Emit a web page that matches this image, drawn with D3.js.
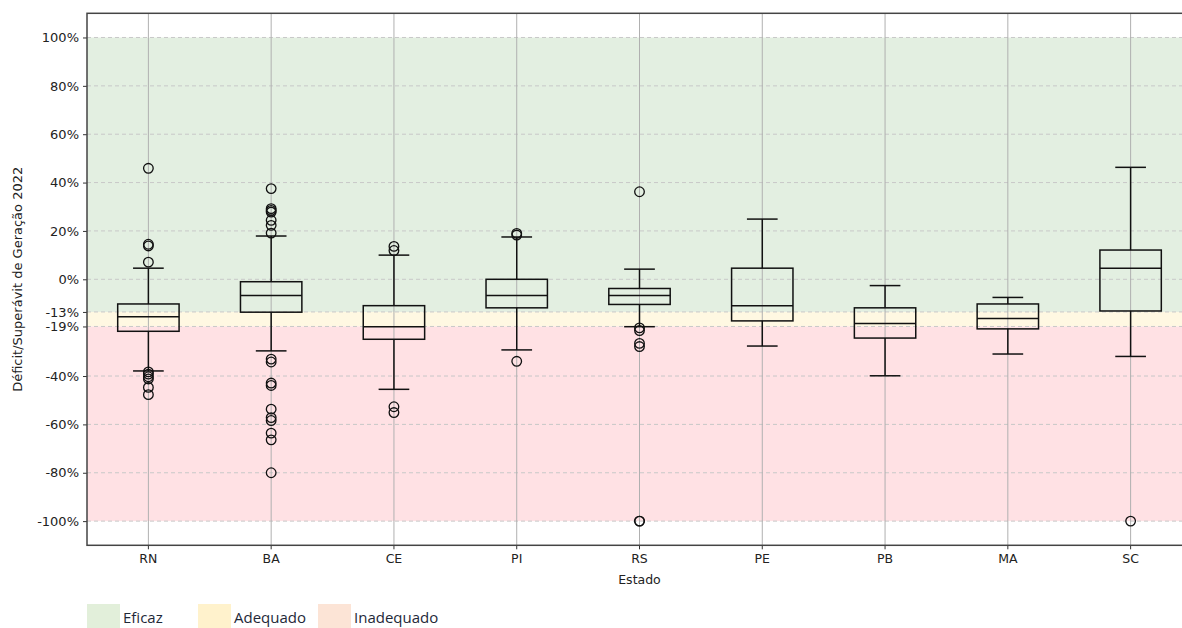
<!DOCTYPE html>
<html>
<head>
<meta charset="utf-8">
<script src="https://cdn.jsdelivr.net/npm/d3@7"></script>
<style>
  body { margin: 0; background: #fff; }
  svg { display: block; }
</style>
</head>
<body>
<div id="chart"></div>
<script>
const states = ["RN", "BA", "CE", "PI", "RS", "PE", "PB", "MA", "SC"];
const whiskerLow = [-37.9, -29.6, -45.5, -29.2, -19.6, -27.6, -39.9, -30.9, -31.9];
const q1 = [-21.5, -13.6, -24.8, -11.8, -10.4, -17.2, -24.3, -20.5, -13.1];
const medians = [-15.5, -6.7, -19.6, -6.7, -6.7, -10.9, -18.3, -16.2, 4.6];
const q3 = [-10.2, -1.0, -10.9, 0.0, -3.8, 4.6, -11.8, -10.2, 12.1];
const whiskerHigh = [4.6, 17.9, 10.0, 17.5, 4.2, 24.9, -2.6, -7.5, 46.3];
const outliers = [
  [45.9, 14.5, 13.8, 7.1, -38.3, -39.2, -40.3, -41.2, -44.7, -47.7],
  [37.5, 29.2, 28.5, 27.8, 24.4, 22.3, 19.1, -33.0, -34.2, -42.9, -43.9, -53.7, -57.2, -58.4, -63.6, -66.4, -80.0],
  [13.6, 11.9, -52.7, -55.1],
  [19.0, 18.3, -33.9],
  [36.2, -20.1, -21.2, -26.5, -27.8, -100, -100],
  [],
  [],
  [],
  [-100]
];
const yTicks = [100, 80, 60, 40, 20, 0, -13.5, -19.5, -40, -60, -80, -100];
const yTickLabels = ["100%", "80%", "60%", "40%", "20%", "0%", "-13%", "-19%", "-40%", "-60%", "-80%", "-100%"];
const bands = [
  { name: "Eficaz", from: -13.5, to: 100, fill: "#e3efe1", legend: "#e2efda" },
  { name: "Adequado", from: -19.5, to: -13.5, fill: "#fff8e2", legend: "#fff2cc" },
  { name: "Inadequado", from: -100, to: -19.5, fill: "#ffe1e4", legend: "#fce4d6" }
];

const width = 1182;
const height = 628;
const marginLeft = 87;
const plotRight = 1192;
const marginTop = 13.3;
const plotBottom = 545.3;

const svg = d3.select("#chart").append("svg")
  .attr("width", width)
  .attr("height", height)
  .attr("viewBox", [0, 0, width, height]);

const x = d3.scaleBand()
  .domain(states)
  .range([marginLeft, plotRight])
  .padding(0);

const y = d3.scaleLinear()
  .domain([-110, 110])
  .range([plotBottom, marginTop]);

const bw = x.bandwidth();
const cx = s => x(s) + bw / 2;

// coloured zones
svg.append("g")
  .selectAll("rect")
  .data(bands)
  .join("rect")
  .attr("x", marginLeft)
  .attr("width", plotRight - marginLeft)
  .attr("y", d => y(d.to))
  .attr("height", d => y(d.from) - y(d.to))
  .attr("fill", d => d.fill);

// horizontal dashed grid
svg.append("g")
  .selectAll("line")
  .data(yTicks)
  .join("line")
  .attr("x1", marginLeft)
  .attr("x2", plotRight)
  .attr("y1", d => y(d))
  .attr("y2", d => y(d))
  .attr("stroke", "#c8c8c8")
  .attr("stroke-width", 1)
  .attr("stroke-dasharray", "4,3");

// vertical grid
svg.append("g")
  .selectAll("line")
  .data(states)
  .join("line")
  .attr("x1", d => cx(d))
  .attr("x2", d => cx(d))
  .attr("y1", marginTop)
  .attr("y2", plotBottom)
  .attr("stroke", "#b0b0b0")
  .attr("stroke-width", 1);

// boxes
const boxes = svg.append("g")
  .selectAll("g")
  .data(states.map((s, i) => ({
    s, lo: whiskerLow[i], q1: q1[i], med: medians[i], q3: q3[i], hi: whiskerHigh[i], out: outliers[i]
  })))
  .join("g")
  .attr("stroke", "#111")
  .attr("stroke-width", 1.5)
  .attr("fill", "none");

boxes.append("line")
  .attr("x1", d => cx(d.s)).attr("x2", d => cx(d.s))
  .attr("y1", d => y(d.hi)).attr("y2", d => y(d.q3));
boxes.append("line")
  .attr("x1", d => cx(d.s)).attr("x2", d => cx(d.s))
  .attr("y1", d => y(d.q1)).attr("y2", d => y(d.lo));
boxes.append("line")
  .attr("x1", d => cx(d.s) - bw / 8).attr("x2", d => cx(d.s) + bw / 8)
  .attr("y1", d => y(d.hi)).attr("y2", d => y(d.hi));
boxes.append("line")
  .attr("x1", d => cx(d.s) - bw / 8).attr("x2", d => cx(d.s) + bw / 8)
  .attr("y1", d => y(d.lo)).attr("y2", d => y(d.lo));
boxes.append("rect")
  .attr("x", d => cx(d.s) - bw / 4)
  .attr("width", bw / 2)
  .attr("y", d => y(d.q3))
  .attr("height", d => y(d.q1) - y(d.q3));
boxes.append("line")
  .attr("x1", d => cx(d.s) - bw / 4).attr("x2", d => cx(d.s) + bw / 4)
  .attr("y1", d => y(d.med)).attr("y2", d => y(d.med));
boxes.each(function(d) {
  d3.select(this).selectAll("circle")
    .data(d.out)
    .join("circle")
    .attr("cx", cx(d.s))
    .attr("cy", v => y(v))
    .attr("r", 4.8)
    .attr("stroke-width", 1.3);
});

// axes
svg.append("g")
  .attr("transform", `translate(${marginLeft},0)`)
  .call(d3.axisLeft(y).tickValues(yTicks).tickSize(4).tickPadding(4)
    .tickFormat((d, i) => yTickLabels[i]))
  .call(g => g.select(".domain").remove())
  .call(g => g.selectAll("text").attr("font-family", "DejaVu Sans").attr("font-size", 13).attr("fill", "#222"))
  .call(g => g.selectAll("line").attr("stroke", "#333"));

svg.append("g")
  .attr("transform", `translate(0,${plotBottom})`)
  .call(d3.axisBottom(x).tickSize(4).tickPadding(5))
  .call(g => g.select(".domain").remove())
  .call(g => g.selectAll("text").attr("font-family", "DejaVu Sans").attr("font-size", 12.5).attr("fill", "#222"))
  .call(g => g.selectAll("line").attr("stroke", "#333"));

// frame
svg.append("rect")
  .attr("x", marginLeft)
  .attr("y", marginTop)
  .attr("width", plotRight - marginLeft)
  .attr("height", plotBottom - marginTop)
  .attr("fill", "none")
  .attr("stroke", "#444")
  .attr("stroke-width", 1.5);

svg.append("text")
  .attr("x", (marginLeft + plotRight) / 2)
  .attr("y", 584)
  .attr("text-anchor", "middle")
  .attr("font-family", "DejaVu Sans")
  .attr("font-size", 12.5)
  .attr("fill", "#222")
  .text("Estado");

svg.append("text")
  .attr("transform", `translate(22,${(marginTop + plotBottom) / 2}) rotate(-90)`)
  .attr("text-anchor", "middle")
  .attr("font-family", "DejaVu Sans")
  .attr("font-size", 13)
  .attr("fill", "#222")
  .text("Déficit/Superávit de Geração 2022");

// legend
const legendX = [87, 198, 318];
const legend = svg.append("g")
  .selectAll("g")
  .data(bands)
  .join("g")
  .attr("transform", (d, i) => `translate(${legendX[i]},604)`);
legend.append("rect")
  .attr("width", 33)
  .attr("height", 26)
  .attr("fill", d => d.legend);
legend.append("text")
  .attr("x", 36)
  .attr("y", 19)
  .attr("font-family", "Open Sans")
  .attr("font-size", 15)
  .attr("fill", "#1e2838")
  .text(d => d.name);
</script>
</body>
</html>
